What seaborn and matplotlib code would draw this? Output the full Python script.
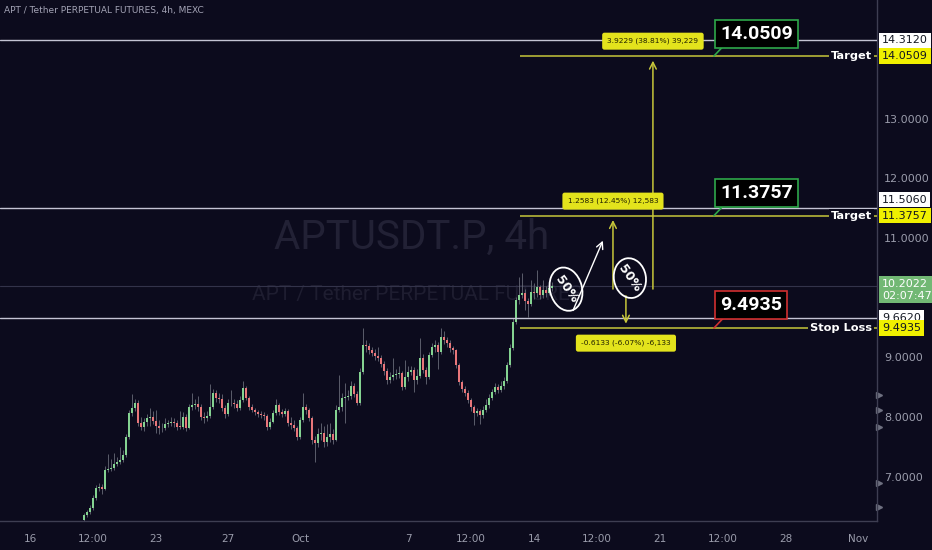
import numpy as np
import pandas as pd
import matplotlib.pyplot as plt
import matplotlib.dates as mdates
import matplotlib.transforms as mtransforms
from matplotlib.patches import Ellipse
import seaborn as sns

# ---- data (APT/USDT perpetual, 4h candles) ----
start_time = "2024-09-19 00:00"
first_open = 6.28
closes = [6.36, 6.41, 6.48, 6.65, 6.81, 6.83, 6.80, 7.12, 7.13, 7.15,
          7.22, 7.25, 7.28, 7.37, 7.67, 8.07, 8.15, 8.24, 7.90, 7.84,
          7.92, 7.99, 8.00, 7.94, 7.85, 7.82, 7.81, 7.89, 7.90, 7.92,
          7.91, 7.84, 7.83, 8.00, 7.82, 8.17, 8.20, 8.22, 8.17, 8.00,
          7.99, 8.02, 8.17, 8.41, 8.32, 8.31, 8.15, 8.05, 8.24, 8.23,
          8.22, 8.15, 8.29, 8.49, 8.32, 8.17, 8.12, 8.09, 8.05, 8.04,
          8.02, 7.84, 7.92, 8.07, 8.20, 8.09, 8.05, 8.10, 7.90, 7.87,
          7.82, 7.67, 7.95, 8.17, 8.12, 7.99, 7.62, 7.57, 7.72, 7.74,
          7.58, 7.67, 7.72, 7.62, 8.12, 8.17, 8.32, 8.34, 8.35, 8.52,
          8.39, 8.24, 8.76, 9.21, 9.19, 9.13, 9.08, 9.03, 8.99, 8.89,
          8.77, 8.62, 8.67, 8.71, 8.72, 8.74, 8.51, 8.67, 8.76, 8.79,
          8.62, 8.69, 8.99, 8.79, 8.67, 9.04, 9.18, 9.21, 9.09, 9.34,
          9.29, 9.24, 9.16, 9.12, 8.87, 8.59, 8.47, 8.41, 8.29, 8.17,
          8.07, 8.10, 8.04, 8.12, 8.20, 8.32, 8.42, 8.51, 8.45, 8.52,
          8.61, 8.87, 9.16, 9.60, 9.96, 10.05, 10.08, 9.95, 9.90, 10.10,
          10.08, 10.18, 10.05, 10.13, 10.08, 10.16, 10.2022]
highs = [6.40, 6.45, 6.52, 6.70, 6.86, 6.90, 6.88, 7.18, 7.38, 7.30,
         7.40, 7.33, 7.50, 7.45, 7.72, 8.12, 8.38, 8.30, 8.28, 8.00,
         7.98, 8.05, 8.15, 8.10, 8.12, 7.95, 7.90, 7.98, 7.96, 8.00,
         7.99, 7.96, 8.10, 8.08, 8.05, 8.22, 8.40, 8.30, 8.35, 8.22,
         8.08, 8.10, 8.55, 8.48, 8.45, 8.40, 8.38, 8.20, 8.30, 8.45,
         8.30, 8.28, 8.35, 8.60, 8.52, 8.36, 8.22, 8.16, 8.12, 8.10,
         8.08, 8.05, 7.98, 8.12, 8.30, 8.24, 8.14, 8.16, 8.13, 8.00,
         7.95, 7.86, 8.00, 8.40, 8.22, 8.15, 8.02, 7.68, 7.82, 7.90,
         7.85, 7.88, 7.90, 7.80, 8.20, 8.70, 8.40, 8.58, 8.45, 8.60,
         8.58, 8.44, 8.82, 9.50, 9.30, 9.24, 9.18, 9.14, 9.18, 9.04,
         8.94, 8.82, 8.76, 8.99, 8.80, 8.86, 8.78, 8.95, 8.85, 8.86,
         8.84, 8.80, 9.33, 9.05, 8.84, 9.10, 9.25, 9.30, 9.26, 9.50,
         9.45, 9.35, 9.30, 9.20, 9.15, 8.90, 8.62, 8.52, 8.45, 8.32,
         8.20, 8.16, 8.14, 8.18, 8.30, 8.38, 8.48, 8.58, 8.56, 8.60,
         8.68, 8.92, 9.22, 9.66, 10.02, 10.35, 10.42, 10.15, 10.00, 10.30,
         10.25, 10.46, 10.22, 10.30, 10.20, 10.22, 10.26]
lows = [6.25, 6.33, 6.38, 6.45, 6.62, 6.76, 6.72, 6.78, 7.08, 7.10,
        7.12, 7.18, 7.22, 7.25, 7.34, 7.64, 8.02, 8.10, 7.85, 7.78,
        7.76, 7.86, 7.85, 7.88, 7.74, 7.72, 7.75, 7.78, 7.84, 7.85,
        7.84, 7.78, 7.80, 7.80, 7.76, 7.80, 8.12, 8.14, 8.10, 7.95,
        7.90, 7.94, 7.98, 8.14, 8.26, 8.24, 8.10, 7.98, 8.02, 8.18,
        8.15, 8.10, 8.12, 8.25, 8.28, 8.12, 8.08, 8.04, 8.00, 7.98,
        7.96, 7.78, 7.80, 7.90, 8.04, 8.04, 8.00, 8.02, 7.86, 7.80,
        7.76, 7.62, 7.64, 7.92, 8.06, 7.94, 7.55, 7.25, 7.50, 7.62,
        7.50, 7.52, 7.58, 7.55, 7.60, 8.08, 8.10, 7.90, 8.28, 8.30,
        8.34, 8.20, 8.20, 8.72, 9.10, 9.06, 9.02, 8.96, 8.94, 8.84,
        8.70, 8.56, 8.58, 8.62, 8.64, 8.66, 8.46, 8.48, 8.60, 8.70,
        8.42, 8.56, 8.65, 8.74, 8.55, 8.64, 9.00, 9.10, 8.80, 9.05,
        9.22, 9.18, 9.10, 9.06, 8.82, 8.54, 8.42, 8.36, 8.24, 8.10,
        7.87, 8.02, 7.88, 7.98, 8.08, 8.16, 8.28, 8.38, 8.40, 8.42,
        8.48, 8.58, 8.84, 9.12, 9.56, 9.90, 10.00, 9.80, 9.68, 9.86,
        9.98, 10.02, 9.98, 10.00, 10.02, 10.04, 10.12]

tick_dates = ["2024-09-16", "2024-09-19 12:00", "2024-09-23", "2024-09-27",
              "2024-10-01", "2024-10-07", "2024-10-10 12:00", "2024-10-14",
              "2024-10-17 12:00", "2024-10-21", "2024-10-24 12:00",
              "2024-10-28", "2024-11-01"]
tick_labels = ["16", "12:00", "23", "27", "Oct", "7", "12:00", "14",
               "12:00", "21", "12:00", "28", "Nov"]
price_ticks = [7, 8, 9, 11, 12, 13]

ref_levels = [14.3120, 11.5060, 9.6620]       # white horizontal lines
target_levels = [14.0509, 11.3757]
stop_level = 9.4935
last_price = 10.2022
countdown = "02:07:47"
measure_labels = ["3.9229 (38.81%) 39,229", "1.2583 (12.45%) 12,583",
                  "-0.6133 (-6.07%) -6,133"]
axis_flags = [8.37, 8.12, 7.84, 6.90, 6.50]

# ---- style ----
bg = "#0c0b1d"
green = "#84d391"
red = "#e8767a"
yellow_line = "#c6c63a"
sns.set_style("dark", {"axes.facecolor": bg, "figure.facecolor": bg})
plt.rcParams["font.family"] = ["DejaVu Sans"]

base = pd.Timestamp("2024-09-16")


def at(days):
    return mdates.date2num(base + pd.Timedelta(days=days))


fig = plt.figure(figsize=(9.32, 5.5), dpi=100)
ax = fig.add_axes([0, 29 / 550, 877 / 932, 521 / 550])
ax.set_facecolor(bg)

# candles
times = pd.date_range(start_time, periods=len(closes), freq="4h")
tnum = mdates.date2num(times)
opens = np.array([first_open] + closes[:-1])
closes_a = np.array(closes)
up = closes_a >= opens
colors = np.where(up, green, red)
ax.vlines(tnum, lows, highs, color="#70737f", lw=0.55, zorder=2)
body = np.maximum(np.abs(closes_a - opens), 0.015)
ax.bar(tnum, body, bottom=np.minimum(opens, closes_a), width=4 / 24 * 0.8,
       color=colors, linewidth=0, zorder=3)

ax.set_xlim(at(-1.667), at(47.06))
ax.set_ylim(6.26, 14.99)

# watermark
ax.text(at(21.2), 11.02, "APTUSDT.P, 4h", fontsize=29, color="#222135",
        ha="center", va="center", family="Roboto", zorder=1)
ax.text(at(21.5), 10.05, "APT / Tether PERPETUAL FUTURES", fontsize=15,
        color="#1e1d30", ha="center", va="center", family="Roboto", zorder=1)

# horizontal reference lines
ax.axhline(last_price, color="#33334a", lw=0.8, zorder=1)
for lv in ref_levels:
    ax.axhline(lv, color="#c4c4d4", lw=1.0, zorder=4)
for lv, name in zip(target_levels + [stop_level], ["Target", "Target", "Stop Loss"]):
    ax.hlines(lv, at(27.22), at(47.06), color=yellow_line, lw=1.1, zorder=4)
    ax.text(at(46.78), lv, name, ha="right", va="center", fontsize=8.2,
            color="white", fontweight="bold", zorder=6,
            bbox=dict(boxstyle="square,pad=0.15", fc=bg, ec="none"))

# measuring arrows
arrow_kw = dict(arrowstyle="->", color=yellow_line, lw=1.1, mutation_scale=12)
ax.annotate("", xy=(at(34.61), 14.02), xytext=(at(34.61), 10.10),
            arrowprops=arrow_kw, zorder=5)
ax.annotate("", xy=(at(32.39), 11.35), xytext=(at(32.39), 10.10),
            arrowprops=arrow_kw, zorder=5)
ax.annotate("", xy=(at(33.11), 9.52), xytext=(at(33.11), 10.08),
            arrowprops=arrow_kw, zorder=5)
for d, y, s in zip([34.61, 32.39, 33.11], [14.30, 11.62, 9.24], measure_labels):
    ax.text(at(d), y, s, ha="center", va="center", fontsize=5.4, color="#222200",
            zorder=7, bbox=dict(boxstyle="round,pad=0.7,rounding_size=0.3",
                                fc="#e3e31c", ec="none"))

# callout boxes for the levels
for y_box, lv, txt, ec in [(14.42, 14.0509, "14.0509", "#2ea84a"),
                          (11.76, 11.3757, "11.3757", "#2ea84a"),
                          (9.88, 9.4935, "9.4935", "#d03030")]:
    ax.plot([at(38.0), at(38.5)], [lv, lv + 0.16], color=ec, lw=1.2, zorder=6)
    ax.text(at(38.35), y_box, txt, ha="left", va="center", fontsize=14,
            fontweight="bold", color="white", family="Roboto", zorder=7,
            bbox=dict(boxstyle="square,pad=0.25", fc="black", ec=ec, lw=1.2))

# hand-drawn 50% ellipses and arrow
for d, y, w, h, ang in [(29.78, 10.145, 0.32, 0.44, 15), (33.33, 10.33, 0.32, 0.40, 10)]:
    tr = fig.dpi_scale_trans + mtransforms.ScaledTranslation(at(d), y, ax.transData)
    ax.add_patch(Ellipse((0, 0), w, h, angle=ang, transform=tr, fill=False,
                         ec="white", lw=1.3, zorder=6))
    ax.text(at(d), y, "50%", rotation=-55, ha="center", va="center",
            fontsize=9, color="white", fontweight="bold", zorder=7)
ax.annotate("", xy=(at(31.89), 11.0), xytext=(at(30.11), 9.745),
            arrowprops=dict(arrowstyle="->", color="white", lw=1.0,
                            mutation_scale=12), zorder=6)

# axes look
for sp in ["left", "top"]:
    ax.spines[sp].set_visible(False)
for sp in ["right", "bottom"]:
    ax.spines[sp].set_color("#3e3e52")
    ax.spines[sp].set_linewidth(1.0)
ax.grid(False)
ax.set_xticks([mdates.date2num(pd.Timestamp(d)) for d in tick_dates])
ax.set_xticklabels(tick_labels)
ax.yaxis.tick_right()
ax.set_yticks(price_ticks)
ax.set_yticklabels([f"{v:.4f}" for v in price_ticks])
ax.tick_params(axis="x", length=0, pad=9, labelsize=7.5, labelcolor="#9a9cab")
ax.tick_params(axis="y", length=0, pad=5, labelsize=8, labelcolor="#9a9cab")

# price scale labels
def scale_label(y, txt, fc, tc, dy=0):
    ax.annotate(txt, xy=(1.0, y), xycoords=("axes fraction", "data"),
                xytext=(3.6, dy), textcoords="offset points", ha="left",
                va="center", fontsize=8, color=tc, zorder=8, annotation_clip=False,
                bbox=dict(boxstyle="square,pad=0.25", fc=fc, ec="none"))

scale_label(ref_levels[0], f"{ref_levels[0]:.4f}", "white", "#131722")
scale_label(target_levels[0], f"{target_levels[0]:.4f}", "#f0f000", "#131722")
scale_label(ref_levels[1], f"{ref_levels[1]:.4f}", "white", "#131722", dy=6)
scale_label(target_levels[1], f"{target_levels[1]:.4f}", "#f0f000", "#131722")
scale_label(last_price, f"{last_price:.4f}\n{countdown}", "#72b874", "white", dy=-3)
scale_label(ref_levels[2], f"{ref_levels[2]:.4f}", "white", "#131722")
scale_label(stop_level, f"{stop_level:.4f}", "#f0f000", "#131722")
ax.plot([1.002] * len(axis_flags), axis_flags, marker=">", ls="none", ms=4,
        color="#6e7080", transform=ax.get_yaxis_transform(), clip_on=False)

fig.text(4 / 932, 1 - 10 / 550, "APT / Tether PERPETUAL FUTURES, 4h, MEXC",
         fontsize=6.5, color="#a3a3b5", va="center", ha="left")

fig.savefig("out.png", dpi=100, facecolor=bg)
